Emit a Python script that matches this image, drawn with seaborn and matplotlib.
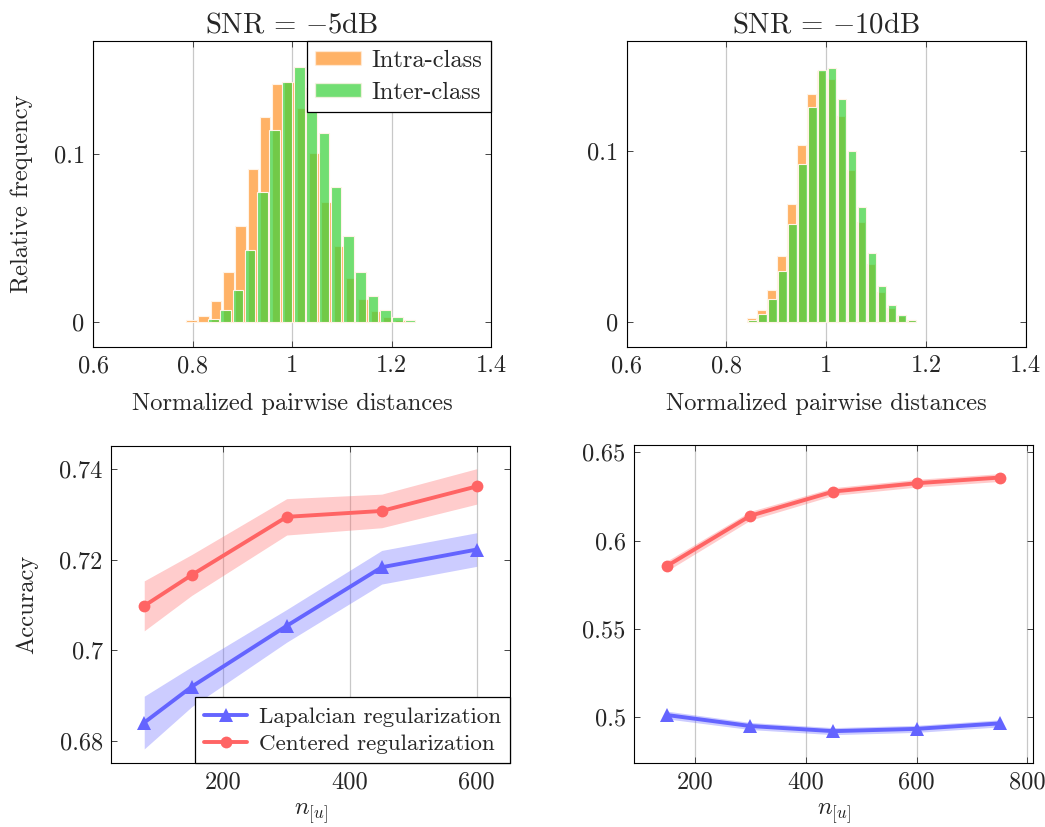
import numpy as np
import pandas as pd
import matplotlib
matplotlib.use("Agg")
import matplotlib.pyplot as plt
import seaborn as sns
from matplotlib.patches import Patch
from matplotlib.lines import Line2D

# ---------------- data ----------------
# Histogram, SNR = -5dB
h5_intra_start = 0.7855
h5_inter_start = 0.8293
h5_binwidth = 0.0247
h5_intra = [0.0008, 0.0036, 0.0125, 0.0296, 0.057, 0.0909, 0.122, 0.1415, 0.1425,
            0.1272, 0.1005, 0.0712, 0.0452, 0.026, 0.0135, 0.0063, 0.0026, 0.001]
h5_inter = [0.0018, 0.0067, 0.019, 0.0427, 0.077, 0.1143, 0.1427, 0.1518, 0.1393,
            0.1123, 0.0802, 0.051, 0.0294, 0.0153, 0.0071, 0.003, 0.001]

# Histogram, SNR = -10dB
h10_intra_start = 0.840
h10_inter_start = 0.842
h10_binwidth = 0.020
h10_intra = [0.0022, 0.0071, 0.0184, 0.0388, 0.069, 0.1037, 0.1337, 0.147, 0.1428,
             0.1206, 0.0892, 0.0586, 0.0339, 0.0175, 0.008, 0.0033, 0.0008]
h10_inter = [0.0012, 0.0045, 0.0131, 0.030, 0.0573, 0.0924, 0.1263, 0.1478, 0.1492,
             0.131, 0.1004, 0.0675, 0.0402, 0.021, 0.0096, 0.0037, 0.0012]

hist_xticks = [0.6, 0.8, 1.0, 1.2, 1.4]
hist_xticklabels = ["0.6", "0.8", "1", "1.2", "1.4"]
hist_yticks = [0, 0.1]
hist_yticklabels = ["0", "0.1"]

# Accuracy, SNR = -5dB
acc5_n = [75, 150, 300, 450, 600]
acc5_lap = [0.6841, 0.6920, 0.7054, 0.7183, 0.7222]
acc5_lap_sd = [0.0058, 0.0044, 0.0036, 0.0037, 0.0037]
acc5_cen = [0.7098, 0.7166, 0.7294, 0.7307, 0.7361]
acc5_cen_sd = [0.0055, 0.0045, 0.0040, 0.0037, 0.0039]
acc5_xticks = [200, 400, 600]
acc5_yticks = [0.68, 0.70, 0.72, 0.74]
acc5_yticklabels = ["0.68", "0.7", "0.72", "0.74"]

# Accuracy, SNR = -10dB
acc10_n = [150, 300, 450, 600, 750]
acc10_lap = [0.5013, 0.4951, 0.4922, 0.4935, 0.4966]
acc10_lap_sd = [0.0022, 0.0020, 0.0020, 0.0020, 0.0020]
acc10_cen = [0.5857, 0.6140, 0.6277, 0.6324, 0.6356]
acc10_cen_sd = [0.0028, 0.0025, 0.0022, 0.0022, 0.0022]
acc10_xticks = [200, 400, 600, 800]
acc10_yticks = [0.50, 0.55, 0.60, 0.65]
acc10_yticklabels = ["0.5", "0.55", "0.6", "0.65"]

titles = ["SNR = $-$5dB", "SNR = $-$10dB"]

# ---------------- style ----------------
sns.set_theme(style="white")
plt.rcParams["font.family"] = ["cmr10", "DejaVu Serif"]
plt.rcParams["mathtext.fontset"] = "cm"
plt.rcParams["axes.unicode_minus"] = False
plt.rcParams["axes.formatter.use_mathtext"] = True

FS = 17.6
TFS = 20.7
ORANGE = "#FF8000"
GREEN = "#3CD23C"
BLUE = "#6464FF"
RED = "#FF6464"

fig = plt.figure(figsize=(10.45, 8.27), dpi=100)
ax_h5 = fig.add_axes([0.0890, 0.5804, 0.4699 - 0.0890, 0.9504 - 0.5804])
ax_h10 = fig.add_axes([0.5997, 0.5804, 0.9815 - 0.5997, 0.9504 - 0.5804])
ax_a5 = fig.add_axes([0.1062, 0.0774, 0.4880 - 0.1062, 0.4607 - 0.0774])
ax_a10 = fig.add_axes([0.6067, 0.0774, 0.9885 - 0.6067, 0.4619 - 0.0774])


def style_axes(ax):
    ax.set_axisbelow(True)
    ax.grid(True, axis="x", color="#c8c8c8", linewidth=0.9)
    ax.grid(False, axis="y")
    for s in ax.spines.values():
        s.set_color("black")
        s.set_linewidth(0.8)
    ax.tick_params(direction="in", length=4.5, width=0.7, color="#444444",
                   top=True, right=True, bottom=True, left=True,
                   labelsize=FS, pad=6)


def draw_hist(ax, start, width, vals, color, alpha):
    n = len(vals)
    edges = [float(start + width * i) for i in range(n + 1)]
    centers = [e + width / 2 for e in edges[:-1]]
    df = pd.DataFrame({"x": centers, "w": vals})
    sns.histplot(data=df, x="x", weights="w", bins=edges, shrink=0.86,
                 color=color, alpha=alpha, edgecolor="#fff3e6", linewidth=0.8,
                 ax=ax, stat="count")


for ax, (istart, istart2, bw, intra, inter), title, ylim in [
    (ax_h5, (h5_intra_start, h5_inter_start, h5_binwidth, h5_intra, h5_inter), titles[0], (-0.0151, 0.1672)),
    (ax_h10, (h10_intra_start, h10_inter_start, h10_binwidth, h10_intra, h10_inter), titles[1], (-0.0148, 0.1648)),
]:
    style_axes(ax)
    draw_hist(ax, istart, bw, intra, ORANGE, 0.6)
    draw_hist(ax, istart2, bw, inter, GREEN, 0.72)
    ax.set_xlim(0.6, 1.4)
    ax.set_ylim(*ylim)
    ax.set_xticks(hist_xticks)
    ax.set_xticklabels(hist_xticklabels)
    ax.set_yticks(hist_yticks)
    ax.set_yticklabels(hist_yticklabels)
    ax.set_xlabel("Normalized pairwise distances", fontsize=FS, labelpad=11)
    ax.set_ylabel("")
    ax.set_title(title, fontsize=TFS, pad=6)

ax_h5.set_ylabel("Relative frequency", fontsize=FS, labelpad=15)
hist_handles = [Patch(facecolor=ORANGE, alpha=0.6, edgecolor="#fff3e6"),
                Patch(facecolor=GREEN, alpha=0.72, edgecolor="#fff3e6")]
leg = ax_h5.legend(hist_handles, ["Intra-class", "Inter-class"], loc="upper right",
                   borderaxespad=0, fancybox=False, frameon=True, edgecolor="black",
                   fontsize=FS, handlelength=1.85, handleheight=0.55,
                   borderpad=0.35, labelspacing=0.4, handletextpad=0.45, framealpha=1)
leg.get_frame().set_linewidth(0.9)


def draw_acc(ax, n, lap, lap_sd, cen, cen_sd):
    style_axes(ax)
    n = np.array(n)
    lap = np.array(lap); lap_sd = np.array(lap_sd)
    cen = np.array(cen); cen_sd = np.array(cen_sd)
    ax.fill_between(n, lap - lap_sd, lap + lap_sd, color=BLUE, alpha=0.33, linewidth=0)
    ax.fill_between(n, cen - cen_sd, cen + cen_sd, color=RED, alpha=0.33, linewidth=0)
    sns.lineplot(x=n, y=lap, ax=ax, color=BLUE, linewidth=2.8, marker="^",
                 markersize=10, markeredgewidth=0, legend=False)
    sns.lineplot(x=n, y=cen, ax=ax, color=RED, linewidth=2.8, marker="o",
                 markersize=8.5, markeredgewidth=0, legend=False)
    ax.set_xlabel(r"$n_{[u]}$", fontsize=FS, labelpad=6)
    ax.set_ylabel("")


draw_acc(ax_a5, acc5_n, acc5_lap, acc5_lap_sd, acc5_cen, acc5_cen_sd)
ax_a5.set_xlim(22.5, 652.5)
ax_a5.set_ylim(0.6752, 0.7450)
ax_a5.set_xticks(acc5_xticks)
ax_a5.set_xticklabels([str(v) for v in acc5_xticks])
ax_a5.set_yticks(acc5_yticks)
ax_a5.set_yticklabels(acc5_yticklabels)
ax_a5.set_ylabel("Accuracy", fontsize=FS, labelpad=15)

draw_acc(ax_a10, acc10_n, acc10_lap, acc10_lap_sd, acc10_cen, acc10_cen_sd)
ax_a10.set_xlim(90, 810)
ax_a10.set_ylim(0.4742, 0.6540)
ax_a10.set_xticks(acc10_xticks)
ax_a10.set_xticklabels([str(v) for v in acc10_xticks])
ax_a10.set_yticks(acc10_yticks)
ax_a10.set_yticklabels(acc10_yticklabels)

line_handles = [Line2D([], [], color=BLUE, lw=2.8, marker="^", markersize=10, markeredgewidth=0),
                Line2D([], [], color=RED, lw=2.8, marker="o", markersize=8.5, markeredgewidth=0)]
leg2 = ax_a5.legend(line_handles, ["Lapalcian regularization", "Centered regularization"],
                    loc="lower right", borderaxespad=0, fancybox=False, frameon=True,
                    edgecolor="black", fontsize=16.6, handlelength=1.85,
                    borderpad=0.4, labelspacing=0.3, handletextpad=0.5, framealpha=1)
leg2.get_frame().set_linewidth(0.9)

fig.savefig("out.png", dpi=100)
